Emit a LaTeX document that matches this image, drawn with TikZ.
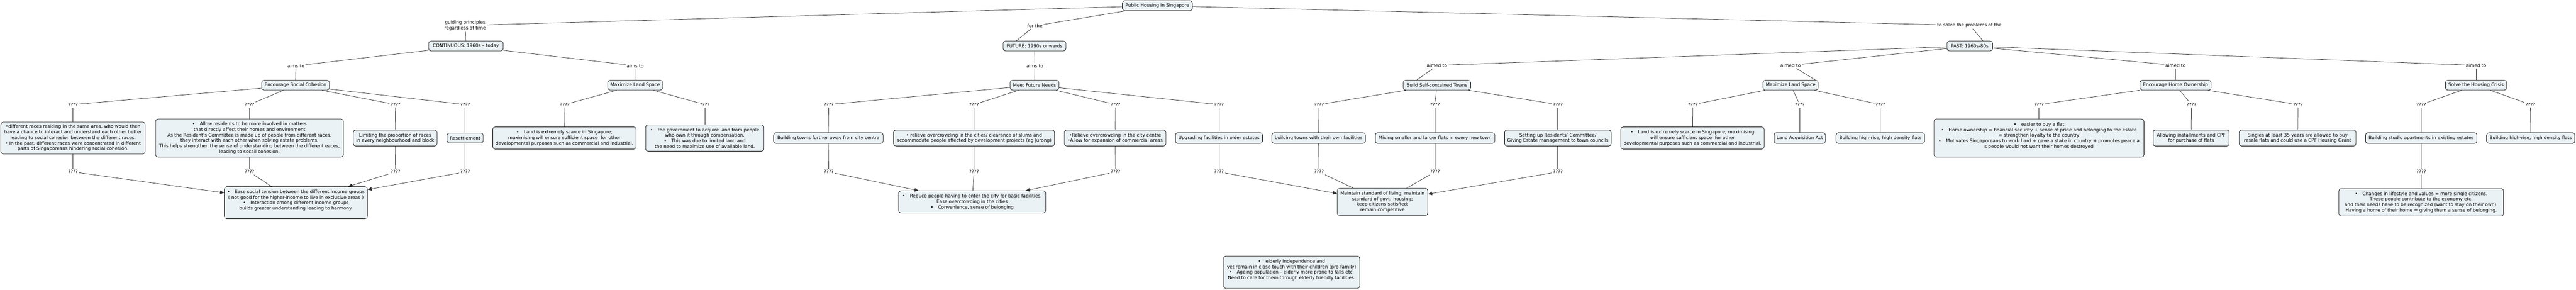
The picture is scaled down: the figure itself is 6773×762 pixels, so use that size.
\documentclass[tikz,border=0pt]{standalone}
\usepackage{fontspec}
\setmainfont{DejaVu Sans}
\usetikzlibrary{arrows.meta}
\definecolor{boxfill}{RGB}{235,242,245}
\definecolor{linkc}{RGB}{45,45,45}
\newcommand{\bul}{•\hspace{1.05em}}
\begin{document}
\begin{tikzpicture}[x=1pt,y=-1pt,
  every node/.style={font=\fontsize{12}{14.6}\selectfont, text=black},
  sz/.style 2 args={minimum width=#1pt, minimum height=#2pt},
  cbox/.style={draw=black, line width=1pt, fill=boxfill, rounded corners=6pt, align=center, inner xsep=4pt, inner ysep=3pt},
  lbl/.style={align=center, inner sep=3pt},
  link/.style={draw=linkc, line width=1pt},
  arr/.style={link, -{Triangle[length=11pt,width=9pt]}},
]
\fill[white] (0,0) rectangle (6773,762);
\useasboundingbox (0,0) rectangle (6773,762);

% level 0
\node[cbox,sz={184}{26}] (root) at (3043,15) {Public Housing in Singapore};
\node[lbl] (lg) at (1223,67) {guiding principles\\regardless of time};
\node[lbl] (lf) at (2721,68) {for the};
\node[lbl] (ls) at (5178,67) {to solve the problems of the};

% level 1
\node[cbox,sz={196}{26}] (cont) at (1225,121) {CONTINUOUS: 1960s – today};
\node[cbox,sz={165}{26}] (fut) at (2720,121) {FUTURE: 1990s onwards};
\node[cbox,sz={120}{26}] (past) at (5179,121) {PAST: 1960s-80s};

\node[lbl] (a1) at (778,173) {aims to};
\node[lbl] (a2) at (1670,173) {aims to};
\node[lbl] (a3) at (2721,173) {aims to};
\node[lbl] (a4) at (3778,172) {aimed to};
\node[lbl] (a5) at (4708,172) {aimed to};
\node[lbl] (a6) at (5720,172) {aimed to};
\node[lbl] (a7) at (6510,172) {aimed to};

% level 2
\node[cbox,sz={178}{26}] (esc) at (777,224) {Encourage Social Cohesion};
\node[cbox,sz={144}{26}] (mlsa) at (1670,224) {Maximize Land Space};
\node[cbox,sz={128}{26}] (mfn) at (2720,224) {Meet Future Needs};
\node[cbox,sz={177}{26}] (bst) at (3778,224) {Build Self-contained Towns};
\node[cbox,sz={145}{26}] (mlsb) at (4708,224) {Maximize Land Space};
\node[cbox,sz={187}{26}] (eho) at (5720,224) {Encourage Home Ownership};
\node[cbox,sz={161}{26}] (shc) at (6510,224) {Solve the Housing Crisis};

\foreach \n/\x in {1/192,2/656,3/1040,4/1223,5/1485,6/1853,7/2179,8/2561,9/2933,10/3205,11/3468,12/3773,13/4096,14/4451,15/4732,16/4944,17/5361,18/5762,19/6042,20/6366,21/6653}
  \node[lbl] (q\n) at (\x,275) {????};

% level 3
\node[cbox,sz={379}{84}] (b1) at (192,363) {•different races residing in the same area, who would then\\have a chance to interact and understand each other better\\leading to social cohesion between the different races.\\• In the past, different races were concentrated in different\\parts of Singaporeans hindering social cohesion.};
\node[cbox,sz={494}{100}] (b2) at (656,363) {\bul Allow residents to be more involved in matters\\that directly affect their homes and environment\\As the Resident's Committee is made up of people from different races,\\they interact with each other when solving estate problems.\\This helps strengthen the sense of understanding between the different eaces,\\leading to socail cohesion.};
\node[cbox,sz={220}{42}] (b3) at (1039,363) {Limiting the proportion of races\\in every neighbourhood and block};
\node[cbox,sz={95}{26}] (b4) at (1223,363) {Resettlement};
\node[cbox,sz={377}{58}] (b5) at (1484,363) {\bul Land is extremely scarce in Singapore;\\maximising will ensure sufficient space\ \ for other\\developmental purposes such as commercial and industrial.};
\node[cbox,sz={311}{69}] (b6) at (1853,363) {\bul the government to acquire land from people\\who own it through compensation.\\\bul This was due to limited land and\\the need to maximize use of available land.};
\node[cbox,sz={288}{28}] (b7) at (2178,363) {Building towns further away from city centre};
\node[cbox,sz={423}{42}] (b8) at (2561,363) {• relieve overcrowding in the cities/ clearance of slums and\\accommodate people affected by development projects (eg Jurong)};
\node[cbox,sz={267}{42}] (b9) at (2932,363) {•Relieve overcrowding in the city centre\\•Allow for expansion of commercial areas};
\node[cbox,sz={229}{28}] (b10) at (3205,363) {Upgrading facilities in older estates};
\node[cbox,sz={246}{28}] (b11) at (3467,363) {building towns with their own facilities};
\node[cbox,sz={314}{28}] (b12) at (3773,363) {Mixing smaller and larger flats in every new town};
\node[cbox,sz={280}{42}] (b13) at (4096,363) {Setting up Residents’ Committee/\\Giving Estate management to town councils};
\node[cbox,sz={377}{58}] (b14) at (4450,363) {\bul Land is extremely scarce in Singapore; maximising\\will ensure sufficient space\ \ for other\\developmental purposes such as commercial and industrial.};
\node[cbox,sz={135}{28}] (b15) at (4732,363) {Land Acquisition Act};
\node[cbox,sz={233}{28}] (b16) at (4944,363) {Building high-rise, high density flats};
\node[cbox,sz={552}{100}] (b17) at (5361,363) {\bul easier to buy a flat\\\bul Home ownership = financial security + sense of pride and belonging to the estate\\= strengthen loyalty to the country\\\bul Motivates Singaporeans to work hard + gave a stake in country + promotes peace a\\s people would not want their homes destroyed\\~};
\node[cbox,sz={200}{42}] (b18) at (5761,363) {Allowing installments and CPF\\for purchase of flats};
\node[cbox,sz={307}{42}] (b19) at (6041,363) {Singles at least 35 years are allowed to buy\\resale flats and could use a CPF Housing Grant};
\node[cbox,sz={293}{28}] (b20) at (6366,363) {Building studio apartments in existing estates};
\node[cbox,sz={232}{28}] (b21) at (6654,363) {Building high-rise, high density flats};

\foreach \n/\x in {1/192,2/656,3/1040,4/1223,7/2179,8/2561,9/2933,10/3205,11/3468,12/3773,13/4096,20/6366}
  \node[lbl] (r\n) at (\x,452) {????};

% bottom
\node[cbox,sz={376}{84}] (e1) at (778,533) {\bul Ease social tension between the different income groups\\( not good for the higher-income to live in exclusive areas )\\\bul Interaction among different income groups\\builds greater understanding leading to harmony.\\~};
\node[cbox,sz={387}{58}] (e2) at (2556,531) {\bul Reduce people having to enter the city for basic facilities.\\Ease overcrowding in the cities\\\bul Convenience, sense of belonging};
\node[cbox,sz={238}{71}] (e3) at (3635,531) {Maintain standard of living; maintain\\standard of govt. housing;\\keep citizens satisfied;\\remain competitive};
\node[cbox,sz={433}{72}] (e4) at (6366,532) {\bul Changes in lifestyle and values = more single citizens.\\These people contribute to the economy etc.\\and their needs have to be recognized (want to stay on their own).\\Having a home of their home = giving them a sense of belonging.};
\node[cbox,sz={358}{85}] (e5) at (3396,716) {\bul elderly independence and\\yet remain in close touch with their children (pro-family)\\\bul Ageing population – elderly more prone to falls etc.\\Need to care for them through elderly friendly facilities.\\~};

% links
\draw[link] (root) -- (lg);
\draw[link] (lg) -- (cont);
\draw[link] (root) -- (lf);
\draw[link] ([xshift=-10pt]lf.south) -- ([xshift=-48pt]fut.north);
\draw[link] (root) -- (ls);
\draw[link] ([xshift=9pt]ls.south) -- ([xshift=35pt]past.north);

\draw[link] (cont) -- (a1);
\draw[link] (a1) -- (esc);
\draw[link] (cont) -- (a2);
\draw[link] (a2) -- (mlsa);
\draw[link] (fut) -- (a3);
\draw[link] (a3) -- (mfn);
\draw[link] (past) -- (a4);
\draw[link] ([xshift=-10pt]a4.south) -- ([xshift=-53pt]bst.north);
\draw[link] (past) -- (a5);
\draw[link] ([xshift=15pt]a5.south) -- ([xshift=65pt]mlsb.north);
\draw[link] (past) -- (a6);
\draw[link] (a6) -- (eho);
\draw[link] (past) -- (a7);
\draw[link] (a7) -- (shc);

\foreach \p/\c in {esc/1,esc/2,esc/3,esc/4,mlsa/5,mlsa/6,mfn/7,mfn/8,mfn/9,mfn/10,bst/11,bst/12,bst/13,mlsb/14,mlsb/15,mlsb/16,eho/17,eho/18,eho/19,shc/20,shc/21}
  \draw[link] (\p) -- (q\c);
\foreach \i in {1,...,21}
  \draw[link] (q\i) -- (b\i);
\foreach \i in {1,2,3,4,7,8,9,10,11,12,13,20}
  \draw[link] (b\i) -- (r\i);

\draw[arr] (r1) -- (e1);
\draw[link] (r2) -- (e1);
\draw[arr] (r3) -- (e1);
\draw[arr] (r4) -- (e1);
\draw[arr] (r7) -- (e2);
\draw[link] (r8) -- (e2);
\draw[arr] (r9) -- (e2);
\draw[arr] (r10) -- (e3);
\draw[link] (r11) -- (e3);
\draw[link] (r12) -- (e3);
\draw[arr] (r13) -- (e3);
\draw[link] (r20) -- (e4);
\end{tikzpicture}
\end{document}
